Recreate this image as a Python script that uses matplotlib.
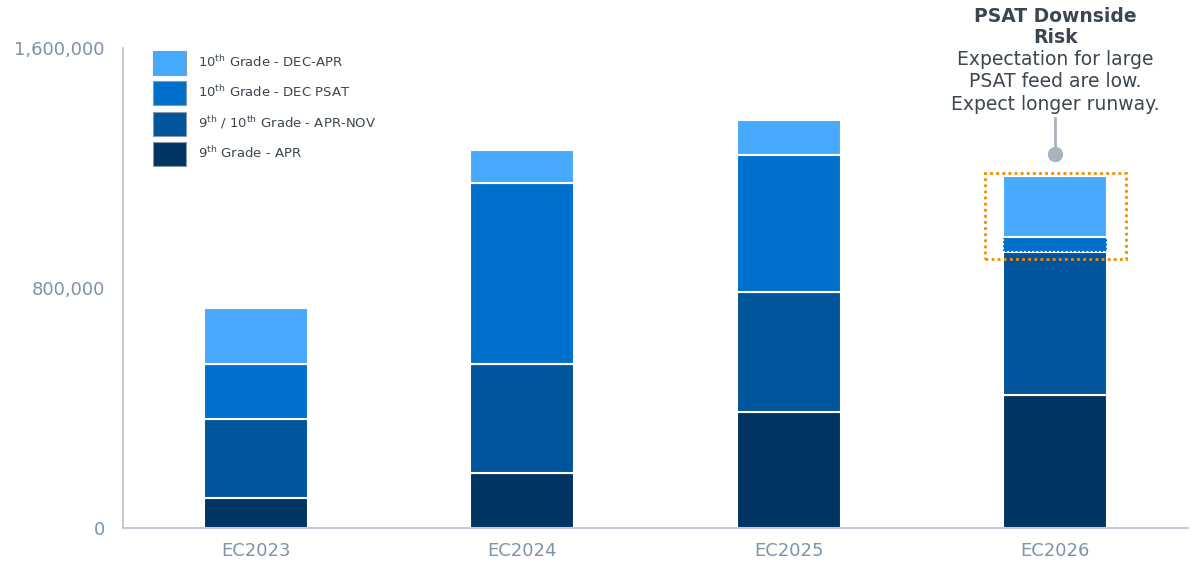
import numpy as np
import matplotlib.pyplot as plt
from matplotlib.patches import Rectangle, Patch

# data
years = ["EC2023", "EC2024", "EC2025", "EC2026"]
apr_9th = [100000, 183000, 387000, 443000]
apr_nov = [263000, 364000, 400000, 477000]
dec_psat = [184000, 603000, 457000, 50000]
dec_apr = [186000, 110000, 117000, 203000]

labels = ["9$^{\\mathrm{th}}$ Grade - APR",
          "9$^{\\mathrm{th}}$ / 10$^{\\mathrm{th}}$ Grade - APR-NOV",
          "10$^{\\mathrm{th}}$ Grade - DEC PSAT",
          "10$^{\\mathrm{th}}$ Grade - DEC-APR"]
colors = ["#003462", "#00559C", "#0070CD", "#48AAFF"]

tick_col = "#7d93aa"
text_col = "#3c4650"

fig = plt.figure(figsize=(11.92, 5.63), dpi=100)
ax = fig.add_axes([0.103, 0.062, 0.894, 0.853])

x = np.arange(len(years))
w = 0.39
bottom = np.zeros(len(years))
series = [apr_9th, apr_nov, dec_psat, dec_apr]
bars = []
for vals, c in zip(series, colors):
    b = ax.bar(x, vals, w, bottom=bottom, color=c, edgecolor="white", linewidth=1.5)
    bars.append(b)
    bottom += np.array(vals)

# dotted outline on the small EC2026 PSAT segment
psat26 = bars[2][3]
psat26.set_linestyle((0, (1, 1)))
psat26.set_linewidth(1.5)

ax.set_xlim(-0.5, 3.5)
ax.set_ylim(0, 1600000)
ax.set_yticks([0, 800000, 1600000])
ax.set_yticklabels(["0", "800,000", "1,600,000"])
ax.set_xticks(x)
ax.set_xticklabels(years)
ax.tick_params(axis="both", length=0, labelsize=13, colors=tick_col, pad=10)
ax.tick_params(axis="y", pad=13)
for s in ["top", "right"]:
    ax.spines[s].set_visible(False)
for s in ["left", "bottom"]:
    ax.spines[s].set_color("#b7c4d2")
    ax.spines[s].set_linewidth(1.2)

# legend (reversed order)
handles = [Patch(facecolor=c, edgecolor="#8a98a8", linewidth=0.8) for c in colors]
leg = ax.legend(handles[::-1], labels[::-1], loc="upper left",
                bbox_to_anchor=(0.017, 1.018), frameon=False, fontsize=9.5,
                handlelength=2.5, handleheight=2.4, labelspacing=0.5,
                handletextpad=0.9, labelcolor=text_col)

# highlight box around EC2026 top
top26 = bottom[3]
ax.add_patch(Rectangle((3 - 0.265, 897000), 0.53, top26 - 897000 + 10000,
                       fill=False, edgecolor="#F28C00", linewidth=2,
                       linestyle=(0, (1, 1.2)), clip_on=False))

# callout
ax.plot([3, 3], [1245000, 1367000], color="#a7b3c0", lw=2, clip_on=False)
ax.plot([3], [1245000], "o", color="#a7b3c0", ms=10, clip_on=False)
ax.text(3, 1669000, "PSAT Downside\nRisk", ha="center", va="center",
        fontsize=13.5, fontweight="bold", color=text_col, linespacing=1.1)
ax.text(3, 1487000, "Expectation for large\nPSAT feed are low.\nExpect longer runway.",
        ha="center", va="center", fontsize=13.5, color=text_col, linespacing=1.25)

fig.savefig("out.png", dpi=100)
